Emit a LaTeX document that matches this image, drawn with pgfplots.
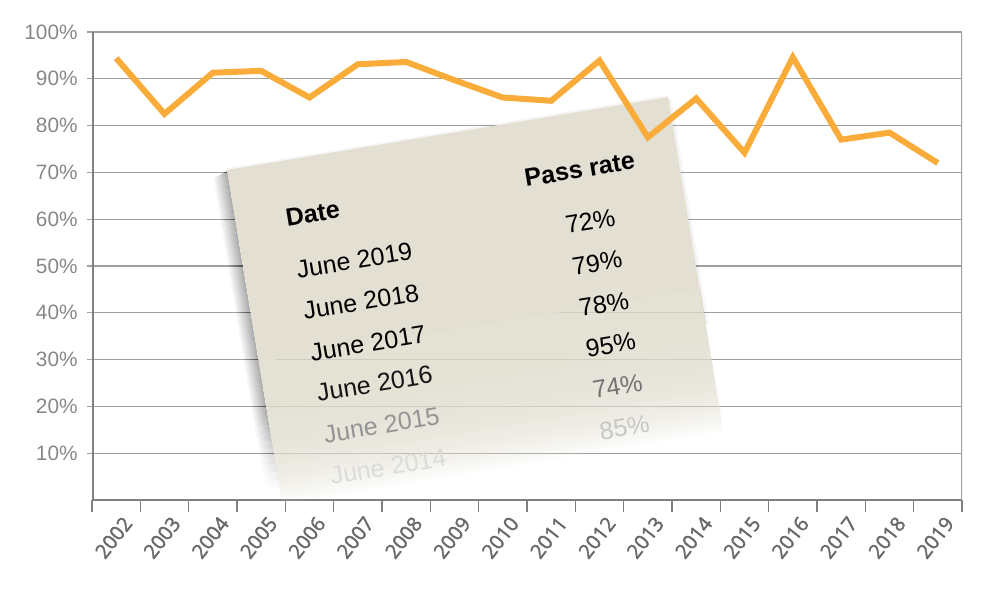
\documentclass[border=0pt]{standalone}
\usepackage{fontspec}
\setmainfont{Liberation Sans}
\newfontfamily\xfont[FakeBold=1.8]{Open Sans}
\usepackage{pgfplots}
\pgfplotsset{compat=1.18}
\definecolor{linecol}{RGB}{249,172,58}
\definecolor{gridcol}{RGB}{160,160,160}
\definecolor{spinecol}{RGB}{128,128,128}
\definecolor{labcol}{RGB}{135,135,135}
\definecolor{xlabcol}{RGB}{105,105,105}
\definecolor{cardcol}{RGB}{227,224,211}
\begin{document}
\begin{tikzpicture}
\path[use as bounding box] (-46pt,-44.5pt) rectangle (454pt,250pt);
\begin{axis}[
  at={(0pt,0pt)}, anchor=south west,
  scale only axis, width=435pt, height=234pt,
  xmin=-0.5, xmax=17.5, ymin=0, ymax=100,
  axis line style={draw=none},
  xtick={0,...,17},
  xticklabels={2002,2003,2004,2005,2006,2007,2008,2009,2010,2011,2012,2013,2014,2015,2016,2017,2018,2019},
  minor xtick={-0.5,0.5,...,17.5},
  xtick pos=bottom, ytick pos=left,
  tick align=outside,
  major x tick style={draw=none},
  minor x tick style={spinecol, line width=0.8pt},
  major y tick style={gridcol, line width=0.6pt},
  minor tick length=6pt,
  major tick length=2.5pt,
  ytick={10,20,...,100},
  yticklabels={10\%,20\%,30\%,40\%,50\%,60\%,70\%,80\%,90\%,100\%},
  ymajorgrids,
  major grid style={gridcol, line width=0.6pt},
  xticklabel style={font=\xfont\fontsize{10}{10}\selectfont, text=xlabcol, rotate=52, anchor=east, inner sep=0pt, xshift=-2pt, yshift=-9pt},
  yticklabel style={font=\fontsize{10.4}{12}\selectfont, text=labcol, inner sep=0pt, xshift=-4.5pt},
]
\draw[spinecol, line width=1.5pt] (axis cs:-0.5,100) -- (axis cs:-0.5,0) -- (axis cs:17.5,0);
\draw[gridcol, line width=0.6pt] (axis cs:17.5,0) -- (axis cs:17.5,100);
\end{axis}
% card
\begin{scope}[shift={(67.5pt,165pt)}, x={(0.4933pt,0.08165pt)}, y={(0.08165pt,-0.4933pt)}]
  % soft shadow, cumulative layers
  \foreach \k in {1,...,8} {
    \foreach \j in {0,...,9} {
      \fill[black, opacity=0.0045] ({-1.8*\k},{1+0.6*\k}) -- (0,1) -- (0,{250+8*\j}) -- ({-1.8*\k},{250+8*\j}) -- cycle;
    }
  }
  \foreach \k in {1,...,3} {
    \fill[black, opacity=0.02] (447,1) -- ({447+1.2*\k},{1+0.5*\k}) -- ({447+1.2*\k},230) -- (447,230) -- cycle;
  }
  \foreach \k in {1,...,3} {
    \fill[black, opacity=0.015] (0,0) -- (447,0) -- (447,{-0.8*\k}) -- (0,{-0.8*\k}) -- cycle;
  }
  % card body, fading out towards the bottom (cumulative layers)
  \fill[cardcol] (0,0) -- (447,0) -- (447,195) -- (0,195) -- cycle;
  \foreach \j in {1,...,80} {
    \fill[cardcol, opacity=0.05] (0,194) -- (447,194) -- (447,{195+1.8*\j}) -- (0,{195+1.8*\j}) -- cycle;
  }
  \tikzset{cardtxt/.style={rotate=9.4, inner sep=0pt, font=\fontsize{12.5}{15}\selectfont}}
  \node[cardtxt, anchor=west, font=\bfseries\fontsize{12.5}{15}\selectfont] at (50,57) {Date};
  \node[cardtxt, font=\bfseries\fontsize{12.5}{15}\selectfont] at (348,57) {Pass rate};
  \node[cardtxt, anchor=west] at (52,110) {June 2019};
  \node[cardtxt, anchor=west] at (52,152) {June 2018};
  \node[cardtxt, anchor=west] at (52,194) {June 2017};
  \node[cardtxt, anchor=west, text=black!92] at (52,235) {June 2016};
  \node[cardtxt, anchor=west, text=black!42] at (52,277) {June 2015};
  \node[cardtxt, anchor=west, text=black!14] at (52,319) {June 2014};
  \node[cardtxt] at (350,110) {72\%};
  \node[cardtxt] at (350,152) {79\%};
  \node[cardtxt] at (350,194) {78\%};
  \node[cardtxt] at (350,235) {95\%};
  \node[cardtxt, text=black!55] at (350,277) {74\%};
  \node[cardtxt, text=black!22] at (350,319) {85\%};
\end{scope}
\begin{axis}[
  at={(0pt,0pt)}, anchor=south west,
  scale only axis, width=435pt, height=234pt,
  xmin=-0.5, xmax=17.5, ymin=0, ymax=100,
  hide axis,
]
\addplot[linecol, line width=3pt, mark=none] coordinates {
  (0,94.4) (1,82.5) (2,91.3) (3,91.7) (4,86.0) (5,93.1) (6,93.6) (7,89.7) (8,86.0)
  (9,85.3) (10,93.9) (11,77.5) (12,85.8) (13,74.2) (14,94.6) (15,77.0) (16,78.5) (17,72.0)
};
\end{axis}
\end{tikzpicture}
\end{document}
